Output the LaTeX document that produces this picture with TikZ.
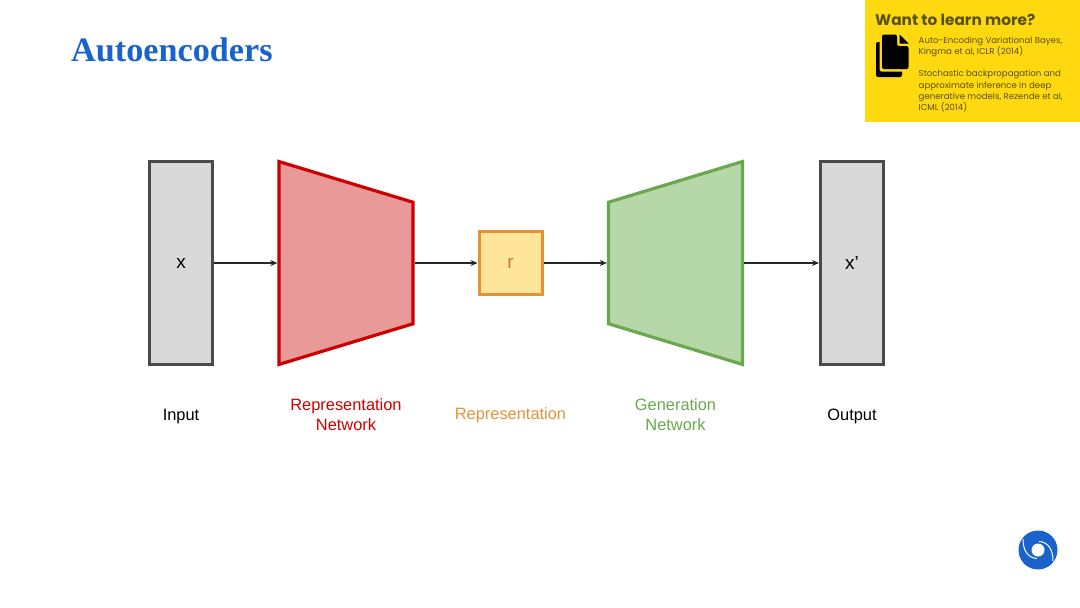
\documentclass[tikz,border=0pt]{standalone}
\usepackage{fontspec}
\setmainfont{Liberation Sans}
\newfontfamily\titlefont{Liberation Serif}
\newfontfamily\notefont{Poppins}
\usetikzlibrary{
  positioning, arrows.meta, shapes.geometric
}
\definecolor{aeblue}{HTML}{1A62CC}
\definecolor{aegrey}{HTML}{D9D9D9}
\definecolor{aedark}{HTML}{4A4A4A}
\definecolor{aered}{HTML}{CC0000}
\definecolor{aepink}{HTML}{EA9999}
\definecolor{aeorange}{HTML}{E69138}
\definecolor{aecream}{HTML}{FFE599}
\definecolor{aegreen}{HTML}{6AA84F}
\definecolor{aemint}{HTML}{B6D7A8}
\definecolor{aeyellow}{HTML}{FFD90F}
\definecolor{aenote}{HTML}{5A5010}

\begin{document}
\begin{tikzpicture}[
      x=1pt, y=-1pt,
      every node/.style={font=\fontsize{16.4}{20}\selectfont, align=center},
      databox/.style={draw=aedark, fill=aegrey, line width=3pt, minimum width=63pt, minimum height=203.5pt},
      netbox/.style={trapezium, line width=3.2pt, trapezium stretches=true, minimum width=203pt, minimum height=134pt, trapezium angle=71.5},
      link/.style={-{Stealth[length=7pt,width=6pt]}, line width=1.3pt, draw=black!85},
      noteline/.style={font=\notefont\fontsize{8.6}{11.4}\selectfont, text=aenote, align=left, anchor=north west, inner sep=0pt},
    ]
    \useasboundingbox (0,0) rectangle (1080,608);
    \node[font=\titlefont\bfseries\fontsize{34.2}{38}\selectfont, text=aeblue, anchor=west, inner sep=0pt] (title) at (71,50) {Autoencoders};

    % note in the corner
    \fill[aeyellow] (865,0) rectangle (1080,122);
    \node[font=\notefont\bfseries\fontsize{15.3}{18}\selectfont, text=aenote, anchor=west, inner sep=0pt] (want) at (875,20) {Want to learn more?};
    \node[noteline] (ref1) at (918.5,36.5) {Auto-Encoding Variational Bayes,\\Kingma et al, ICLR (2014)};
    \node[noteline] (ref2) at (918.5,70) {Stochastic backpropagation and\\approximate inference in deep\\generative models, Rezende et al,\\ICML (2014)};
    \fill[black, rounded corners=2pt] (876,42) rectangle (902,77);
    \fill[aeyellow, rounded corners=2pt] (879.5,32) rectangle (911,71.5);
    \fill[black, rounded corners=2pt] (882,34.5) -- (897,34.5) -- (897,46) -- (908.5,46) -- (908.5,69) -- (882,69) -- cycle;
    \fill[black] (899.5,34.5) -- (899.5,43.5) -- (908.5,43.5) -- cycle;

    % main row
    \node[databox] (x) at (181,263) {\fontsize{19}{20}\selectfont x};
    \node[netbox, shape border rotate=270, draw=aered, fill=aepink] (rep) at (346,263) {};
    \node[draw=aeorange, fill=aecream, line width=3pt, minimum width=63pt, minimum height=63pt, text=aeorange!85!black] (r) at (510.5,263) {\fontsize{19}{20}\selectfont r};
    \node[netbox, shape border rotate=90, draw=aegreen, fill=aemint] (gen) at (675.5,263) {};
    \node[databox] (xp) at (852,263) {\fontsize{19}{20}\selectfont x'};

    \draw[link] (x) -- (rep);
    \draw[link] (rep) -- (r);
    \draw[link] (r) -- (gen);
    \draw[link] (gen) -- (xp);

    \node (input) at (181,416.5) {Input};
    \node[text=aered] (replabel) at (346,415) {Representation\\Network};
    \node[text=aeorange] (rlabel) at (510.5,415.5) {Representation};
    \node[text=aegreen] (genlabel) at (675.5,415) {Generation\\Network};
    \node (output) at (852,416.5) {Output};

    % logo
    \fill[aeblue] (1038,550) circle (19.5pt);
    \fill[white] (1038,550) circle (6.5pt);
    \draw[white, line width=1pt] (1023,539) .. controls (1023,552) and (1029,558) .. (1037,558.5);
    \draw[white, line width=1pt] (1053,561) .. controls (1053,548) and (1047,542) .. (1039,541.5);
  \end{tikzpicture}
\end{document}
